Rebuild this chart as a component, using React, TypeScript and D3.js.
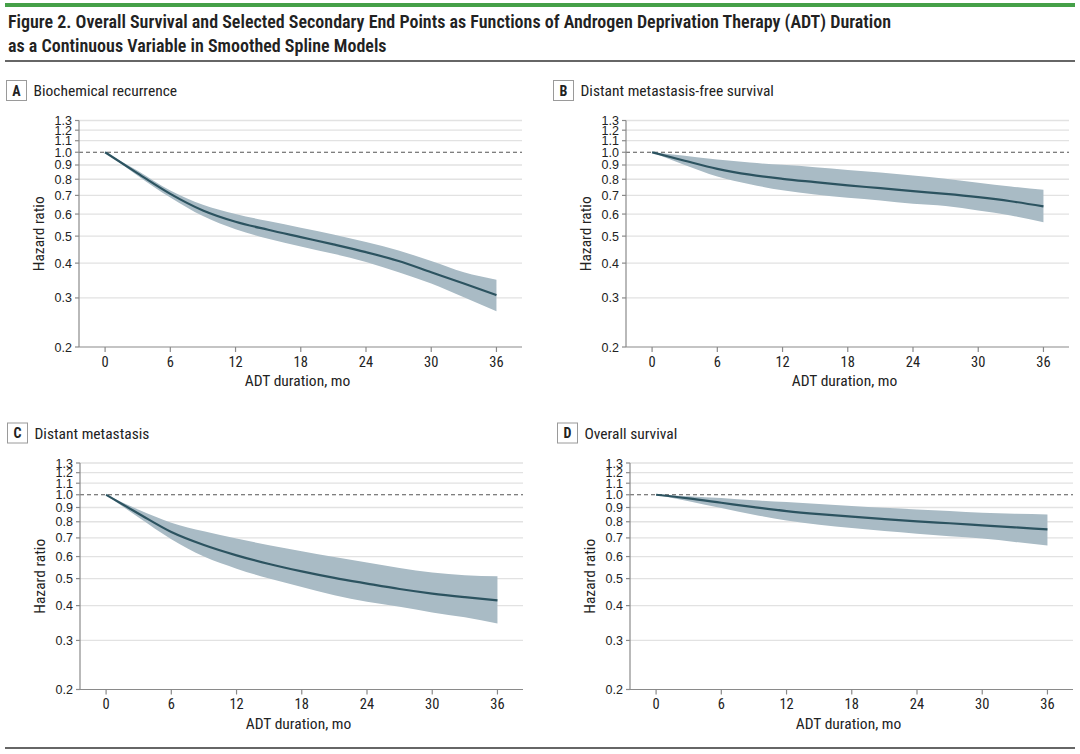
import React from "react";
import * as d3 from "d3";

// ADT duration in months at which the spline curves were read
const months = [0, 3, 6, 9, 12, 15, 18, 21, 24, 27, 30, 33, 36];
const xTicks = [0, 6, 12, 18, 24, 30, 36];
const yTicks = [0.2, 0.3, 0.4, 0.5, 0.6, 0.7, 0.8, 0.9, 1.0, 1.1, 1.2, 1.3];

const titleLines = [
  "Figure 2. Overall Survival and Selected Secondary End Points as Functions of Androgen Deprivation Therapy (ADT) Duration",
  "as a Continuous Variable in Smoothed Spline Models",
];
const panelLetters = ["A", "B", "C", "D"];
const panelTitles = [
  "Biochemical recurrence",
  "Distant metastasis-free survival",
  "Distant metastasis",
  "Overall survival",
];

// A: biochemical recurrence
const bcrHR = [1, 0.84, 0.709, 0.618, 0.563, 0.527, 0.496, 0.467, 0.438, 0.407, 0.371, 0.338, 0.307];
const bcrUpper = [1, 0.858, 0.729, 0.648, 0.6, 0.566, 0.536, 0.507, 0.476, 0.444, 0.407, 0.371, 0.349];
const bcrLower = [1, 0.824, 0.688, 0.59, 0.529, 0.489, 0.459, 0.432, 0.404, 0.371, 0.338, 0.302, 0.269];

// B: distant metastasis-free survival
const dmfsHR = [1, 0.932, 0.872, 0.831, 0.803, 0.781, 0.76, 0.743, 0.725, 0.709, 0.69, 0.667, 0.639];
const dmfsUpper = [1, 0.972, 0.941, 0.918, 0.901, 0.884, 0.864, 0.846, 0.825, 0.803, 0.777, 0.753, 0.733];
const dmfsLower = [1, 0.9, 0.818, 0.768, 0.73, 0.705, 0.686, 0.671, 0.653, 0.641, 0.618, 0.593, 0.561];

// C: distant metastasis
const dmHR = [1, 0.855, 0.735, 0.66, 0.606, 0.564, 0.531, 0.503, 0.48, 0.459, 0.442, 0.429, 0.418];
const dmUpper = [1, 0.883, 0.794, 0.739, 0.696, 0.659, 0.627, 0.598, 0.571, 0.546, 0.526, 0.514, 0.51];
const dmLower = [1, 0.828, 0.692, 0.6, 0.543, 0.5, 0.467, 0.436, 0.413, 0.396, 0.378, 0.363, 0.345];

// D: overall survival
const osHR = [1, 0.97, 0.936, 0.903, 0.874, 0.852, 0.834, 0.818, 0.803, 0.79, 0.777, 0.764, 0.751];
const osUpper = [1, 0.988, 0.973, 0.955, 0.941, 0.926, 0.911, 0.898, 0.886, 0.874, 0.862, 0.855, 0.85];
const osLower = [1, 0.948, 0.896, 0.848, 0.809, 0.781, 0.76, 0.741, 0.725, 0.709, 0.696, 0.677, 0.658];

const FONT = "'Liberation Sans Narrow', 'Roboto Condensed', 'DejaVu Sans Condensed', 'Liberation Sans', sans-serif";
const TICK_FONT = "'Liberation Sans', Arial, sans-serif";

interface PanelProps {
  letter: string;
  title: string;
  hr: number[];
  upper: number[];
  lower: number[];
  zeroX: number; // pixel of month 0
  top: number; // pixel of HR 1.3
}

const Panel: React.FC<PanelProps> = ({ letter, title, hr, upper, lower, zeroX, top }) => {
  const x = d3.scaleLinear().domain([-2.4, 38.35]).range([zeroX - 26, zeroX + 417]);
  const y = d3.scaleLog().domain([0.2, 1.3]).range([top + 226.5, top]);
  const [x0, x1] = x.range();
  const [yBottom] = y.range();

  const pts = months.map((m, i) => ({ m, hr: hr[i], lo: lower[i], hi: upper[i] }));
  const band = d3
    .area<(typeof pts)[number]>()
    .x((d) => x(d.m))
    .y0((d) => y(d.lo))
    .y1((d) => y(d.hi))
    .curve(d3.curveMonotoneX)(pts);
  const line = d3
    .line<(typeof pts)[number]>()
    .x((d) => x(d.m))
    .y((d) => y(d.hr))
    .curve(d3.curveMonotoneX)(pts);

  const boxX = zeroX - 98.5;
  const boxY = top - 40;

  return (
    <g>
      {/* panel heading */}
      <rect x={boxX} y={boxY} width={20} height={20} fill="#fff" stroke="#9a9a9a" strokeWidth={1} />
      <text x={boxX + 10} y={boxY + 15} textAnchor="middle" fontFamily={FONT} fontWeight={700} fontSize={14} fill="#222">
        {letter}
      </text>
      <text x={boxX + 27} y={boxY + 15.5} fontFamily={FONT} fontSize={15.5} fill="#222">
        {title}
      </text>

      {/* grid */}
      {yTicks
        .filter((t) => t !== 1.0 && t !== 0.2)
        .map((t) => (
          <line key={t} x1={x0} x2={x1} y1={y(t)} y2={y(t)} stroke="#e2e2e2" strokeWidth={1.3} />
        ))}
      <line x1={x0} x2={x1} y1={y(1)} y2={y(1)} stroke="#555" strokeWidth={1.2} strokeDasharray="4 3" />

      {/* CI band and estimate */}
      <path d={band ?? ""} fill="#a9bbc5" />
      <path d={line ?? ""} fill="none" stroke="#2c5360" strokeWidth={2.2} />

      {/* y axis */}
      <line x1={x0} x2={x0} y1={top} y2={yBottom} stroke="#8a8a8a" strokeWidth={1.2} />
      {yTicks.map((t) => (
        <g key={t}>
          <line x1={x0 - 4} x2={x0} y1={y(t)} y2={y(t)} stroke="#8a8a8a" strokeWidth={1.2} />
          <text x={x0 - 7} y={y(t) + 4.5} textAnchor="end" fontFamily={TICK_FONT} fontSize={12.5} fill="#222">
            {t.toFixed(1)}
          </text>
        </g>
      ))}
      <text
        transform={`translate(${x0 - 35},${(top + yBottom) / 2}) rotate(-90)`}
        textAnchor="middle"
        fontFamily={FONT}
        fontSize={15.5}
        fill="#222"
      >
        Hazard ratio
      </text>

      {/* x axis */}
      <line x1={x0} x2={x1} y1={yBottom} y2={yBottom} stroke="#8a8a8a" strokeWidth={1.2} />
      {xTicks.map((t) => (
        <g key={t}>
          <line x1={x(t)} x2={x(t)} y1={yBottom} y2={yBottom + 5} stroke="#8a8a8a" strokeWidth={1.2} />
          <text x={x(t)} y={yBottom + 19.5} textAnchor="middle" fontFamily={FONT} fontSize={14.5} fill="#222">
            {t}
          </text>
        </g>
      ))}
      <text x={(x0 + x1) / 2 - 3} y={yBottom + 39} textAnchor="middle" fontFamily={FONT} fontSize={15.5} fill="#222">
        ADT duration, mo
      </text>
    </g>
  );
};

const App: React.FC = () => {
  const panels = [
    { hr: bcrHR, upper: bcrUpper, lower: bcrLower, zeroX: 105, top: 120.5 },
    { hr: dmfsHR, upper: dmfsUpper, lower: dmfsLower, zeroX: 652, top: 120.5 },
    { hr: dmHR, upper: dmUpper, lower: dmLower, zeroX: 106, top: 463 },
    { hr: osHR, upper: osUpper, lower: osLower, zeroX: 656, top: 463 },
  ];

  return (
    <svg width={1080} height={754} style={{ position: "absolute", left: 0, top: 0, background: "#fff" }}>
      <rect x={5} y={3} width={1070} height={4} fill="#45a048" />
      {titleLines.map((t, i) => (
        <text key={i} x={8} y={28 + i * 24} fontFamily={FONT} fontWeight={600} fontSize={18} fill="#222">
          {t}
        </text>
      ))}
      <line x1={5} x2={1075} y1={61} y2={61} stroke="#333" strokeWidth={1.5} />

      {panels.map((p, i) => (
        <Panel key={i} letter={panelLetters[i]} title={panelTitles[i]} {...p} />
      ))}

      <line x1={5} x2={1075} y1={748} y2={748} stroke="#333" strokeWidth={1.5} />
    </svg>
  );
};

export default App;
